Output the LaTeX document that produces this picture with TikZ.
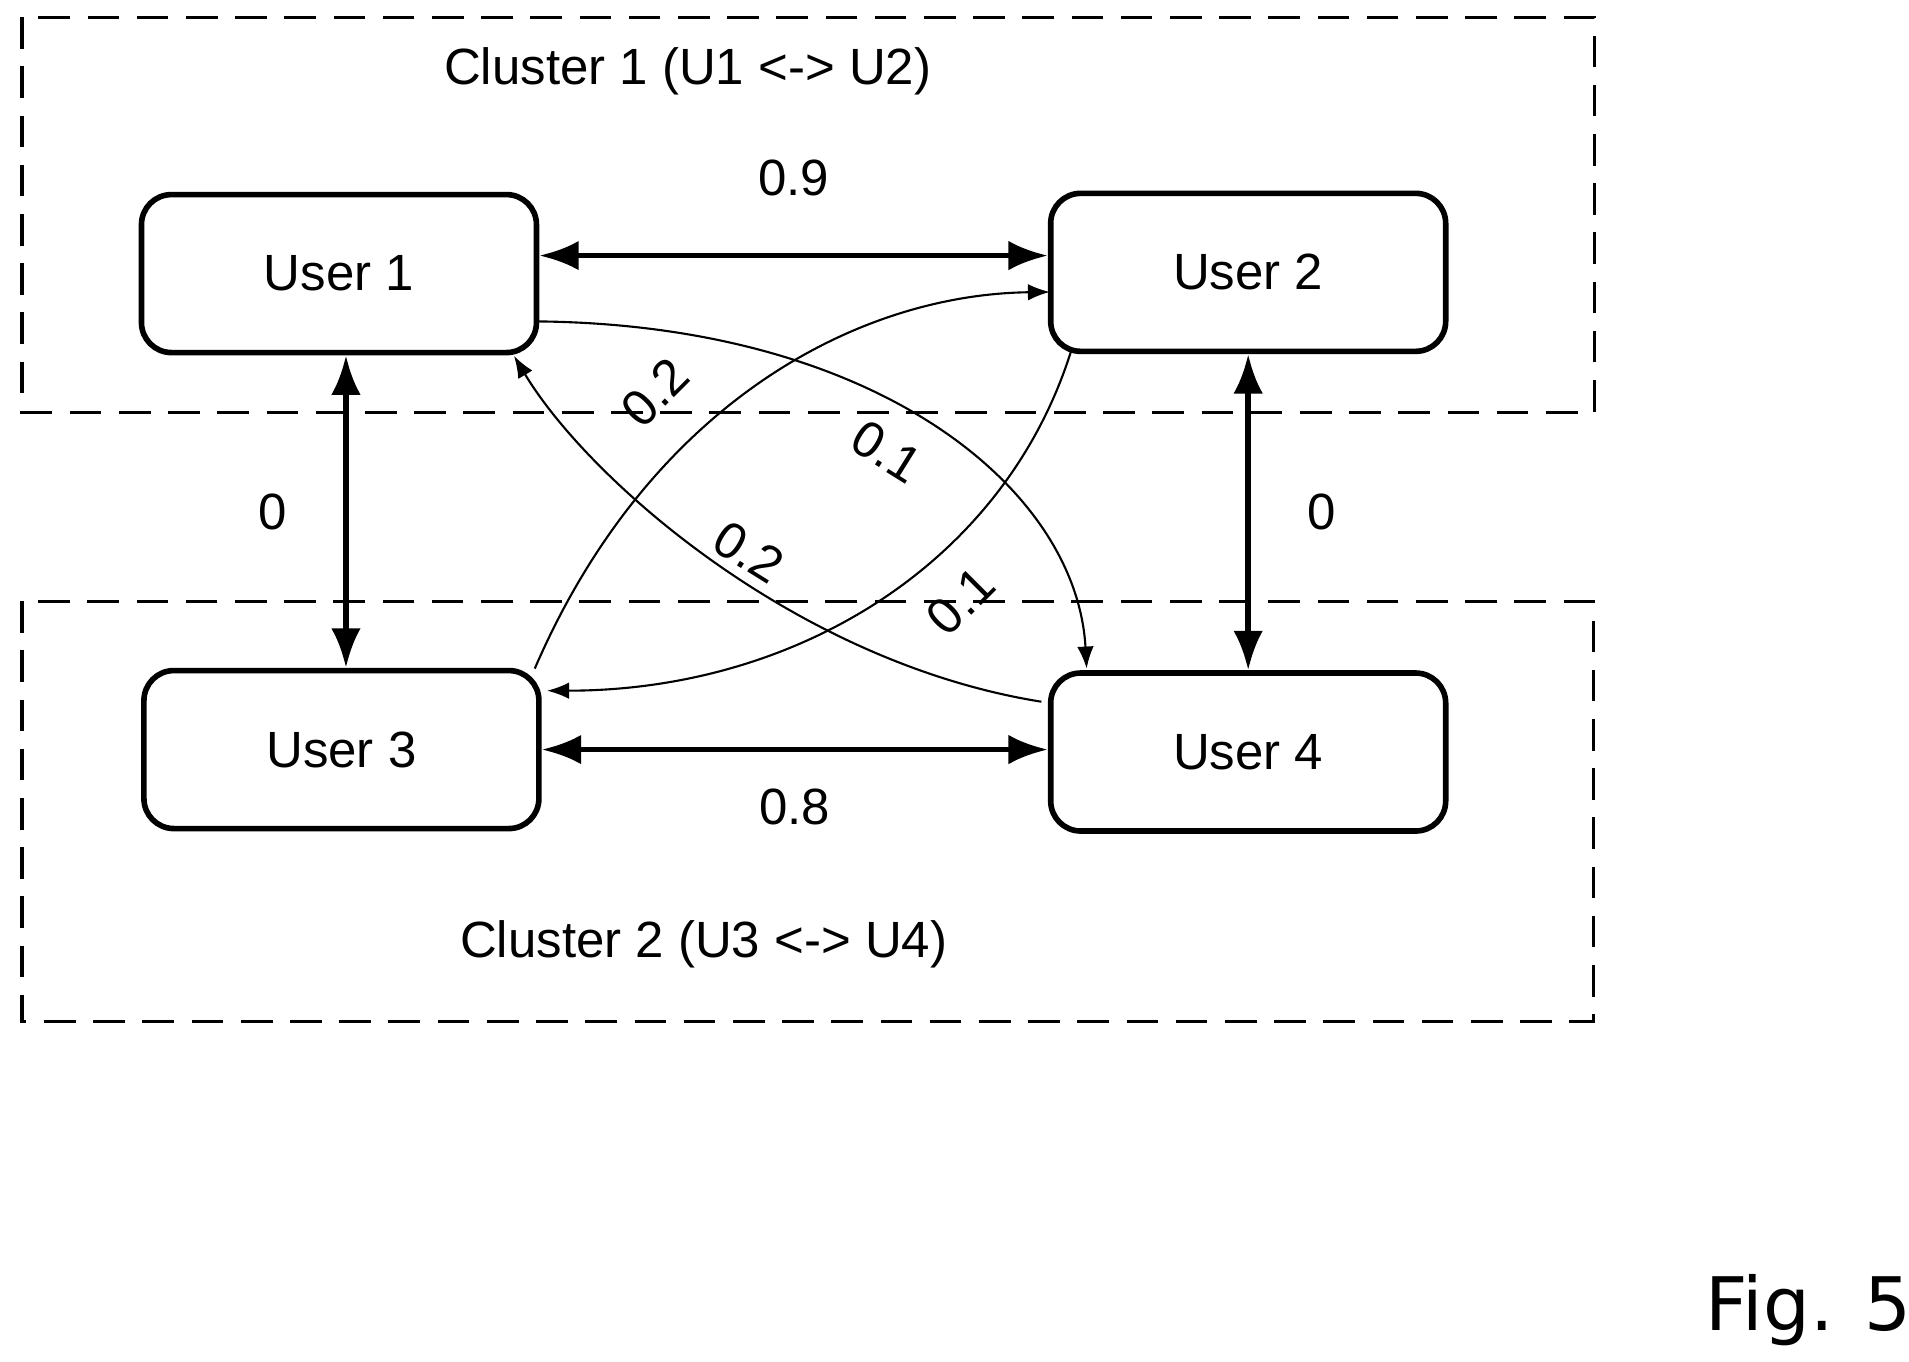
\documentclass[tikz,border=0pt]{standalone}
\usepackage{fontspec}
\setmainfont{Liberation Sans}
\newfontfamily\figfont{DejaVu Sans}
\usetikzlibrary{arrows.meta}
\usetikzlibrary{positioning}
\tikzset{
% Define standard arrow tip
>={Latex[scale=1.1]}
}
\begin{document}
\begin{tikzpicture}[x=0.01224cm, y=-0.01227cm, font=\fontsize{14.5}{17}\selectfont,
  user/.style={rectangle, rounded corners=0.3cm, draw=black, line width=1.6pt,
    minimum width=3.95cm, minimum height=1.58cm},
  cluster/.style={dashed, draw=black, line width=0.9pt, dash pattern=on 9pt off 5pt},
  link/.style={<->, line width=1.6pt},
  cross/.style={->, line width=0.6pt}]
  \useasboundingbox (0,0) rectangle (1560,1110);

  % clusters
  \draw[cluster] (18,14) rectangle (1303,336);
  \draw[cluster] (18,490) rectangle (1302,833);
  \node (c1-text) at (562,58) {Cluster 1 (U1 <-> U2)};
  \node (c2-text) at (575,770) {Cluster 2 (U3 <-> U4)};

  % users
  \node[user] (U1) at (277,223) {User 1};
  \node[user] (U2) at (1020,222) {User 2};
  \node[user] (U3) at (279,611) {User 3};
  \node[user] (U4) at (1020,613) {User 4};

  % straight links
  \draw[link] ([yshift=0.18cm]U1.east) -- node[above=0.45cm]{0.9} ([yshift=0.18cm]U1.east -| U2.west);
  \draw[link] (U3.east) -- node[below=0.25cm]{0.8} (U3.east -| U4.west);
  \draw[link] ([xshift=0.07cm]U1.south) -- node[left=0.45cm]{0} ([xshift=0.07cm]U1.south |- U3.north);
  \draw[link] (U2.south) -- node[right=0.45cm]{0} (U2.south |- U4.north);

  % cross links
  \coordinate (a1) at (440,262); \coordinate (a4) at (888,545);
  \coordinate (b4) at (851,572); \coordinate (b1) at (420,290);
  \coordinate (c3) at (437,545); \coordinate (c2) at (858,238);
  \coordinate (d2) at (875,287); \coordinate (d3) at (447,563);
  \draw[cross] (a1) .. controls (720,265) and (880,400) .. (a4);
  \draw[cross] (b4) .. controls (650,540) and (480,390) .. (b1);
  \draw[cross] (c3) .. controls (530,330) and (700,240) .. (c2);
  \draw[cross] (d2) .. controls (820,460) and (650,563) .. (d3);
  \node[rotate=-32] (l1) at (725,368) {0.1};
  \node[rotate=-32] (l2) at (612,450) {0.2};
  \node[rotate=45] (l3) at (535,320) {0.2};
  \node[rotate=45] (l4) at (785,490) {0.1};

  \node[font=\figfont\fontsize{21}{24}\selectfont] (fig) at (1478,1068) {Fig. 5};
\end{tikzpicture}
\end{document}
